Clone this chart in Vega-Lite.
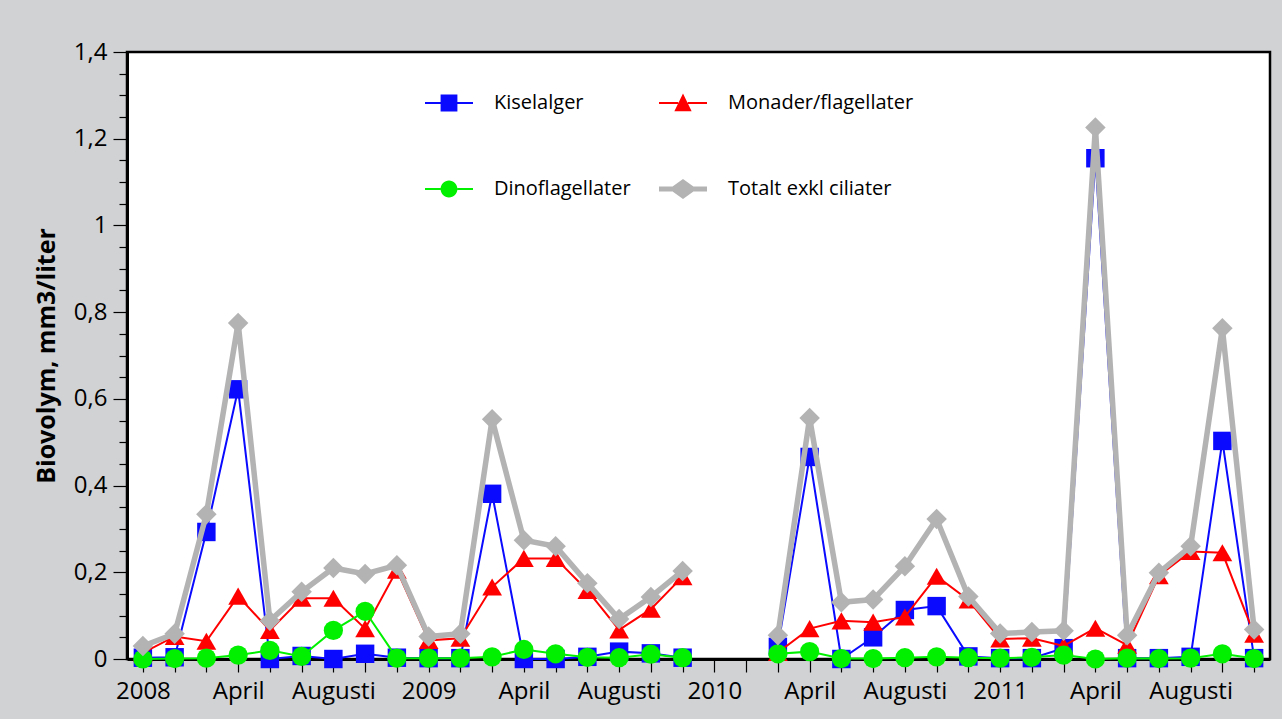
{
  "$schema": "https://vega.github.io/schema/vega-lite/v6.json",
  "width": 1143,
  "height": 607,
  "autosize": {"type": "none"},
  "padding": {"left": 127, "top": 52, "right": 12, "bottom": 60},
  "background": "#d1d2d4",
  "config": {
    "font": "Open Sans",
    "view": {"fill": "white", "stroke": "black", "strokeWidth": 2.5}
  },
  "data": {
    "values": [
      {"i": 0, "Kiselalger": 0.003, "Monader/flagellater": 0.014, "Dinoflagellater": 0.0, "Totalt exkl ciliater": 0.03},
      {"i": 1, "Kiselalger": 0.004, "Monader/flagellater": 0.052, "Dinoflagellater": 0.001, "Totalt exkl ciliater": 0.058},
      {"i": 2, "Kiselalger": 0.293, "Monader/flagellater": 0.041, "Dinoflagellater": 0.002, "Totalt exkl ciliater": 0.334},
      {"i": 3, "Kiselalger": 0.622, "Monader/flagellater": 0.145, "Dinoflagellater": 0.009, "Totalt exkl ciliater": 0.775},
      {"i": 4, "Kiselalger": 0.0, "Monader/flagellater": 0.066, "Dinoflagellater": 0.02, "Totalt exkl ciliater": 0.088},
      {"i": 5, "Kiselalger": 0.007, "Monader/flagellater": 0.14, "Dinoflagellater": 0.006, "Totalt exkl ciliater": 0.155},
      {"i": 6, "Kiselalger": 0.0, "Monader/flagellater": 0.14, "Dinoflagellater": 0.066, "Totalt exkl ciliater": 0.21},
      {"i": 7, "Kiselalger": 0.012, "Monader/flagellater": 0.07, "Dinoflagellater": 0.11, "Totalt exkl ciliater": 0.196},
      {"i": 8, "Kiselalger": 0.003, "Monader/flagellater": 0.205, "Dinoflagellater": 0.002, "Totalt exkl ciliater": 0.216},
      {"i": 9, "Kiselalger": 0.002, "Monader/flagellater": 0.043, "Dinoflagellater": 0.002, "Totalt exkl ciliater": 0.052},
      {"i": 10, "Kiselalger": 0.002, "Monader/flagellater": 0.048, "Dinoflagellater": 0.002, "Totalt exkl ciliater": 0.058},
      {"i": 11, "Kiselalger": 0.381, "Monader/flagellater": 0.166, "Dinoflagellater": 0.005, "Totalt exkl ciliater": 0.553},
      {"i": 12, "Kiselalger": 0.0, "Monader/flagellater": 0.232, "Dinoflagellater": 0.022, "Totalt exkl ciliater": 0.274},
      {"i": 13, "Kiselalger": 0.0, "Monader/flagellater": 0.232, "Dinoflagellater": 0.012, "Totalt exkl ciliater": 0.26},
      {"i": 14, "Kiselalger": 0.005, "Monader/flagellater": 0.158, "Dinoflagellater": 0.004, "Totalt exkl ciliater": 0.175},
      {"i": 15, "Kiselalger": 0.017, "Monader/flagellater": 0.067, "Dinoflagellater": 0.003, "Totalt exkl ciliater": 0.092},
      {"i": 16, "Kiselalger": 0.013, "Monader/flagellater": 0.115, "Dinoflagellater": 0.011, "Totalt exkl ciliater": 0.143},
      {"i": 17, "Kiselalger": 0.003, "Monader/flagellater": 0.19, "Dinoflagellater": 0.003, "Totalt exkl ciliater": 0.203},
      {"i": 18, "Kiselalger": null, "Monader/flagellater": null, "Dinoflagellater": null, "Totalt exkl ciliater": null},
      {"i": 19, "Kiselalger": null, "Monader/flagellater": null, "Dinoflagellater": null, "Totalt exkl ciliater": null},
      {"i": 20, "Kiselalger": 0.028, "Monader/flagellater": 0.015, "Dinoflagellater": 0.012, "Totalt exkl ciliater": 0.055},
      {"i": 21, "Kiselalger": 0.466, "Monader/flagellater": 0.07, "Dinoflagellater": 0.017, "Totalt exkl ciliater": 0.556},
      {"i": 22, "Kiselalger": 0.0, "Monader/flagellater": 0.088, "Dinoflagellater": 0.001, "Totalt exkl ciliater": 0.131},
      {"i": 23, "Kiselalger": 0.05, "Monader/flagellater": 0.085, "Dinoflagellater": 0.001, "Totalt exkl ciliater": 0.137},
      {"i": 24, "Kiselalger": 0.113, "Monader/flagellater": 0.097, "Dinoflagellater": 0.003, "Totalt exkl ciliater": 0.214},
      {"i": 25, "Kiselalger": 0.122, "Monader/flagellater": 0.191, "Dinoflagellater": 0.005, "Totalt exkl ciliater": 0.323},
      {"i": 26, "Kiselalger": 0.006, "Monader/flagellater": 0.136, "Dinoflagellater": 0.003, "Totalt exkl ciliater": 0.144},
      {"i": 27, "Kiselalger": 0.002, "Monader/flagellater": 0.046, "Dinoflagellater": 0.002, "Totalt exkl ciliater": 0.059},
      {"i": 28, "Kiselalger": 0.002, "Monader/flagellater": 0.048, "Dinoflagellater": 0.004, "Totalt exkl ciliater": 0.062},
      {"i": 29, "Kiselalger": 0.025, "Monader/flagellater": 0.03, "Dinoflagellater": 0.009, "Totalt exkl ciliater": 0.065},
      {"i": 30, "Kiselalger": 1.155, "Monader/flagellater": 0.071, "Dinoflagellater": 0.0, "Totalt exkl ciliater": 1.226},
      {"i": 31, "Kiselalger": 0.002, "Monader/flagellater": 0.032, "Dinoflagellater": 0.002, "Totalt exkl ciliater": 0.055},
      {"i": 32, "Kiselalger": 0.002, "Monader/flagellater": 0.192, "Dinoflagellater": 0.001, "Totalt exkl ciliater": 0.199},
      {"i": 33, "Kiselalger": 0.005, "Monader/flagellater": 0.248, "Dinoflagellater": 0.002, "Totalt exkl ciliater": 0.26},
      {"i": 34, "Kiselalger": 0.503, "Monader/flagellater": 0.245, "Dinoflagellater": 0.012, "Totalt exkl ciliater": 0.763},
      {"i": 35, "Kiselalger": 0.002, "Monader/flagellater": 0.057, "Dinoflagellater": 0.001, "Totalt exkl ciliater": 0.068}
    ]
  },
  "transform": [
    {"fold": ["Kiselalger", "Monader/flagellater", "Dinoflagellater", "Totalt exkl ciliater"], "as": ["s", "v"]}
  ],
  "encoding": {
    "x": {
      "field": "i",
      "type": "quantitative",
      "scale": {"domain": [-0.5, 35.5], "nice": false, "zero": false},
      "axis": {
        "title": null,
        "grid": false,
        "values": [0,1,2,3,4,5,6,7,8,9,10,11,12,13,14,15,16,17,18,19,20,21,22,23,24,25,26,27,28,29,30,31,32,33,34,35],
        "labelExpr": "['2008','','','April','','','Augusti','','','2009','','','April','','','Augusti','','','2010','','','April','','','Augusti','','','2011','','','April','','','Augusti','',''][datum.value]",
        "labelFlush": false,
        "labelOverlap": false,
        "labelBound": false,
        "labelFontSize": 24,
        "labelColor": "black",
        "labelPadding": 7,
        "tickSize": 13,
        "tickWidth": 1.2,
        "tickColor": "black",
        "domainColor": "black",
        "domainWidth": 3
      }
    },
    "y": {
      "field": "v",
      "type": "quantitative",
      "scale": {"domain": [0, 1.4], "nice": false, "zero": true},
      "axis": {
        "title": "Biovolym, mm3/liter",
        "titleFontSize": 25,
        "titleFontWeight": "bold",
        "titleColor": "black",
        "titlePadding": 14,
        "grid": false,
        "values": [0,0.05,0.1,0.15,0.2,0.25,0.3,0.35,0.4,0.45,0.5,0.55,0.6,0.65,0.7,0.75,0.8,0.85,0.9,0.95,1,1.05,1.1,1.15,1.2,1.25,1.3,1.35,1.4],
        "labelExpr": "abs(datum.value*5 - round(datum.value*5)) < 0.001 ? replace(format(datum.value, '.1~f'), '.', ',') : ''",
        "labelFontSize": 24,
        "labelColor": "black",
        "labelPadding": 6,
        "labelOverlap": false,
        "labelBound": false,
        "labelFlush": false,
        "tickSize": {"condition": {"test": "abs(datum.value*5 - round(datum.value*5)) < 0.001", "value": 14}, "value": 8},
        "tickWidth": 1.2,
        "tickColor": "black",
        "domainColor": "black",
        "domainWidth": 3
      }
    }
  },
  "layer": [
    {
      "transform": [{"filter": "datum.s === 'Kiselalger'"}],
      "mark": {"type": "line", "color": "#0a0aff", "strokeWidth": 2,
        "point": {"shape": "square", "size": 340, "filled": true, "color": "#0a0aff", "opacity": 1}}
    },
    {
      "transform": [{"filter": "datum.s === 'Monader/flagellater'"}],
      "mark": {"type": "line", "color": "#ff0000", "strokeWidth": 2,
        "point": {"shape": "triangle-up", "size": 390, "filled": true, "color": "#ff0000", "opacity": 1}}
    },
    {
      "transform": [{"filter": "datum.s === 'Dinoflagellater'"}],
      "mark": {"type": "line", "color": "#00f000", "strokeWidth": 2,
        "point": {"shape": "circle", "size": 370, "filled": true, "color": "#00f000", "opacity": 1}}
    },
    {
      "transform": [{"filter": "datum.s === 'Totalt exkl ciliater'"}],
      "mark": {"type": "line", "color": "#b3b3b3", "strokeWidth": 5.5,
        "point": {"shape": "diamond", "size": 420, "filled": true, "color": "#b3b3b3", "opacity": 1}}
    },
    {
      "transform": [{"filter": "datum.i === 0"}],
      "mark": {"type": "point", "filled": true, "opacity": 0},
      "encoding": {
        "color": {
          "field": "s",
          "type": "nominal",
          "scale": {
            "domain": ["Kiselalger", "Monader/flagellater", "Dinoflagellater", "Totalt exkl ciliater"],
            "range": ["#0a0aff", "#ff0000", "#00f000", "#b3b3b3"]
          },
          "legend": {
            "title": null,
            "orient": "none",
            "legendX": 298,
            "legendY": 27,
            "direction": "horizontal",
            "columns": 2,
            "columnPadding": 28,
            "rowPadding": 52,
            "padding": 0,
            "symbolSize": 2304,
            "symbolStrokeWidth": 0,
            "symbolOpacity": 1,
            "labelFontSize": 20,
            "labelColor": "black",
            "labelOffset": 21,
            "labelLimit": 400
          }
        },
        "shape": {
          "field": "s",
          "type": "nominal",
          "scale": {
            "domain": ["Kiselalger", "Monader/flagellater", "Dinoflagellater", "Totalt exkl ciliater"],
            "range": [
              "M-1,-0.042H-0.35V0.042H-1Z M0.35,-0.042H1V0.042H0.35Z M-0.35,-0.35H0.35V0.35H-0.35Z",
              "M-1,-0.042H-0.2V0.042H-1Z M0.2,-0.042H1V0.042H0.2Z M0,-0.4L0.36,0.34L-0.36,0.34Z",
              "M-1,-0.042H-0.35V0.042H-1Z M0.35,-0.042H1V0.042H0.35Z M-0.35,0A0.35,0.35 0 1,1 0.35,0A0.35,0.35 0 1,1 -0.35,0Z",
              "M-1,-0.1H-0.45V0.1H-1Z M0.45,-0.1H1V0.1H0.45Z M-0.58,0L0,-0.42L0.58,0L0,0.42Z"
            ]
          },
          "legend": {
            "title": null,
            "orient": "none",
            "legendX": 298,
            "legendY": 27,
            "direction": "horizontal",
            "columns": 2,
            "columnPadding": 28,
            "rowPadding": 52,
            "padding": 0,
            "symbolSize": 2304,
            "symbolStrokeWidth": 0,
            "symbolOpacity": 1,
            "labelFontSize": 20,
            "labelColor": "black",
            "labelOffset": 21,
            "labelLimit": 400
          }
        }
      }
    }
  ]
}
